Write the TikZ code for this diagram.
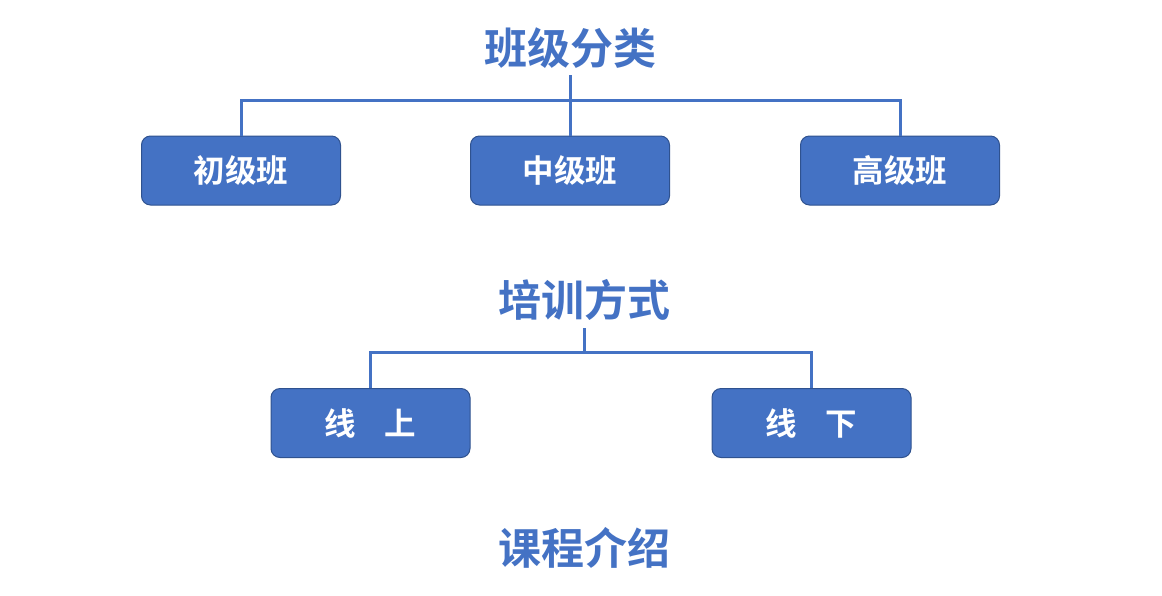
\documentclass[tikz,border=0pt]{standalone}
\usepackage{fontspec}
\newfontfamily\cjk{Noto Sans CJK SC Bold}
\definecolor{mblue}{HTML}{4472C4}
\definecolor{dblue}{HTML}{2F528F}
\tikzset{
  box/.style={draw=dblue, line width=1pt, fill=mblue, rounded corners=9pt, minimum width=199pt, minimum height=69pt, inner sep=0pt, text=white, font=\cjk\fontsize{31.5}{34}\selectfont},
  head/.style={text=mblue, inner sep=0pt, font=\cjk\fontsize{43}{48}\selectfont},
  conn/.style={draw=mblue, line width=3pt}
}
\begin{document}
\begin{tikzpicture}[x=1pt,y=-1pt]
\useasboundingbox (0,0) rectangle (1162,595);
\node[head] (t1) at (570,48) {班级分类};
\node[box] (b1) at (241,170.5) {初级班};
\node[box] (b2) at (570,170.5) {中级班};
\node[box] (b3) at (900,170.5) {高级班};
\coordinate (j1) at (570,100);
\draw[conn] (570,75) coordinate (s1) -- (j1);
\draw[conn] (b1.north) |- (j1) -| (b3.north);
\draw[conn] (j1) -- (b2.north);

\node[head] (t2) at (584,300) {培训方式};
\node[box] (c1) at (370.5,423) {线\hspace{0.9em}上};
\node[box] (c2) at (811.5,423) {线\hspace{0.9em}下};
\coordinate (j2) at (584,352);
\draw[conn] (584,328) coordinate (s2) -- (j2);
\draw[conn] (c1.north) |- (j2) -| (c2.north);

\node[head] (t3) at (584,548) {课程介绍};
\end{tikzpicture}
\end{document}
